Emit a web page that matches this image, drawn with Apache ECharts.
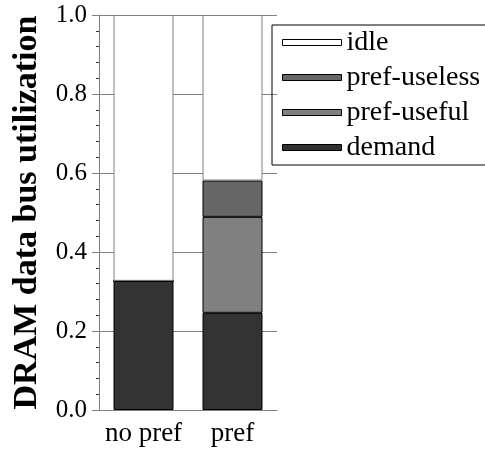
<!DOCTYPE html>
<html>
<head>
<meta charset="utf-8">
<script src="https://cdn.jsdelivr.net/npm/echarts@6/dist/echarts.min.js"></script>
<style>
  html, body { margin: 0; padding: 0; background: #fff; }
  #chart { width: 485px; height: 453px; }
</style>
</head>
<body>
<div id="chart"></div>
<script>
// categories and stacked shares (bottom to top)
const categories = ['no pref', 'pref'];
const demand = [0.327, 0.246];
const prefUseful = [0, 0.243];
const prefUseless = [0, 0.092];
const idle = [0.673, 0.419];
const legendOrder = ['idle', 'pref-useless', 'pref-useful', 'demand'];

const serif = 'Liberation Serif';

function stackBar(name, data, color, border) {
  return {
    name: name,
    type: 'bar',
    stack: 'util',
    barWidth: 60,
    data: data,
    itemStyle: { color: color, borderColor: border, borderWidth: 1 }
  };
}

const chart = echarts.init(document.getElementById('chart'));
chart.setOption({
  animation: false,
  textStyle: { fontFamily: serif },
  grid: { left: 99, right: 208, top: 15, bottom: 43 },
  legend: {
    data: legendOrder,
    orient: 'vertical',
    left: 272,
    top: 25,
    padding: [0, 30, 0, 10],
    itemGap: 0,
    itemWidth: 59,
    itemHeight: 6,
    icon: 'rect',
    borderColor: '#000',
    borderWidth: 1,
    itemStyle: { borderColor: '#000', borderWidth: 1 },
    textStyle: { fontFamily: serif, fontSize: 28, color: '#000', lineHeight: 35 }
  },
  xAxis: {
    type: 'category',
    data: categories,
    axisLine: { lineStyle: { color: '#808080', width: 1 } },
    axisTick: { alignWithLabel: true, length: 5, lineStyle: { color: '#000' } },
    axisLabel: { interval: 0, fontFamily: serif, fontSize: 27, color: '#000', margin: 10 }
  },
  yAxis: {
    type: 'value',
    min: 0,
    max: 1,
    interval: 0.2,
    name: 'DRAM data bus utilization',
    nameLocation: 'middle',
    nameGap: 55,
    nameTextStyle: { fontFamily: serif, fontSize: 34, fontWeight: 'bold', color: '#000' },
    axisLine: { show: true, lineStyle: { color: '#808080', width: 1 } },
    axisTick: { show: true, length: 7, lineStyle: { color: '#808080' } },
    minorTick: { show: true, splitNumber: 5, length: 3, lineStyle: { color: '#333' } },
    splitLine: { show: true, lineStyle: { color: '#808080', width: 1 } },
    axisLabel: {
      fontFamily: serif, fontSize: 25, color: '#000', margin: 12,
      formatter: v => v.toFixed(1)
    }
  },
  series: [
    stackBar('demand', demand, '#333333', '#000'),
    stackBar('pref-useful', prefUseful, '#808080', '#000'),
    stackBar('pref-useless', prefUseless, '#666666', '#000'),
    stackBar('idle', idle, '#ffffff', '#808080')
  ]
});
</script>
</body>
</html>
